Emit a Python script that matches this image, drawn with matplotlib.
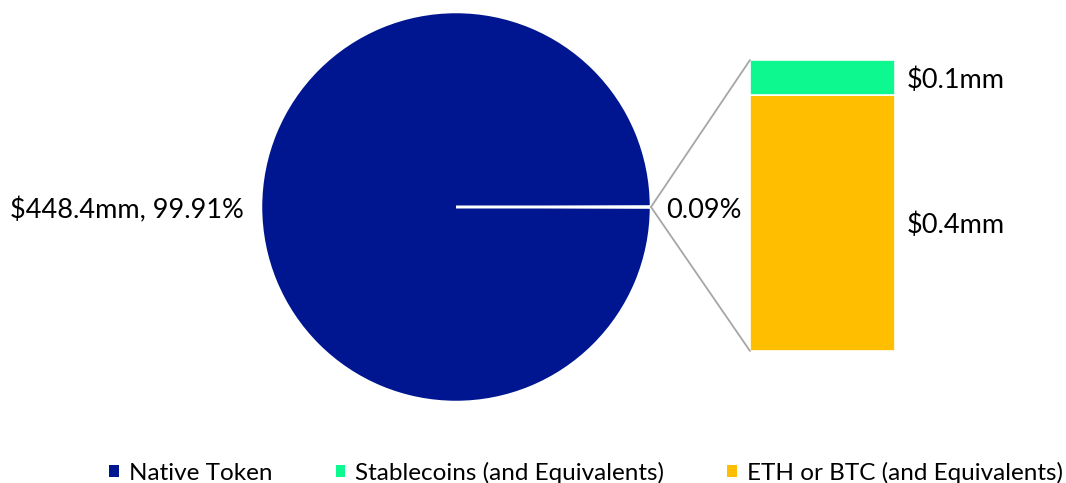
import matplotlib
matplotlib.use("Agg")
import matplotlib.pyplot as plt
from matplotlib.patches import ConnectionPatch, Patch

plt.rcParams["font.family"] = ["Lato", "DejaVu Sans"]

# holdings in $mm
pie_labels = ["Native Token", "Other"]
native_value = 448.4
bar_labels = ["ETH or BTC (and Equivalents)", "Stablecoins (and Equivalents)"]
bar_values = [0.36, 0.05]
legend_order = ["Native Token", "Stablecoins (and Equivalents)", "ETH or BTC (and Equivalents)"]

colors = {
    "Native Token": "#001690",
    "Stablecoins (and Equivalents)": "#0DF98F",
    "ETH or BTC (and Equivalents)": "#FFBE00",
}

W, H = 1066, 483
fig = plt.figure(figsize=(W / 100, H / 100), dpi=100)

other_total = sum(bar_values)
total = native_value + other_total
other_pct = other_total / total * 100
native_pct = native_value / total * 100

# pie: tiny "other" wedge centred on the horizontal, pointing right
cx, cy, r = 456, 207, 195
ax_pie = fig.add_axes([(cx - r) / W, (H - cy - r) / H, 2 * r / W, 2 * r / H])
start = -other_pct / 100 * 360 / 2
ax_pie.pie([other_total, native_value], colors=[colors["ETH or BTC (and Equivalents)"], colors["Native Token"]],
           startangle=start, counterclock=True,
           wedgeprops=dict(edgecolor="white", linewidth=1.8))
ax_pie.set_xlim(-1, 1)
ax_pie.set_ylim(-1, 1)
ax_pie.set_aspect("equal")
ax_pie.axis("off")

ax_pie.text(-1.09, -0.015, f"${native_value:.1f}mm, {native_pct:.2f}%", ha="right", va="center", fontsize=19.5)
ax_pie.text(1.08, -0.02, f"{other_pct:.2f}%", ha="left", va="center", fontsize=19.5)

# stacked bar breaking down the small wedge
bx0, bx1, by0, by1 = 750, 895, 60, 351
ax_bar = fig.add_axes([bx0 / W, (H - by1) / H, (bx1 - bx0) / W, (by1 - by0) / H])
bottom = 0
for label, val in zip(bar_labels, bar_values):
    ax_bar.bar(0, val, bottom=bottom, width=1, color=colors[label], edgecolor="white", linewidth=1.2)
    ax_bar.text(0.58, bottom + val / 2 - 0.003, f"${val:.1f}mm", ha="left", va="center", fontsize=19.5)
    bottom += val
ax_bar.set_xlim(-0.5, 0.5)
ax_bar.set_ylim(0, other_total)
ax_bar.axis("off")

for y in (other_total, 0):
    con = ConnectionPatch(xyA=(1.0, 0.0), coordsA=ax_pie.transData,
                          xyB=(-0.5, y), coordsB=ax_bar.transData,
                          color="#A6A6A6", linewidth=1.3)
    fig.add_artist(con)

handles = [Patch(facecolor=colors[k], edgecolor="none") for k in legend_order]
fig.legend(handles, legend_order, loc="center", bbox_to_anchor=(586 / W, 10 / H), ncol=3,
           frameon=False, fontsize=17.5, handlelength=0.4, handleheight=0.4, handletextpad=0.4,
           columnspacing=2.6)

fig.savefig("out.png", dpi=100)
